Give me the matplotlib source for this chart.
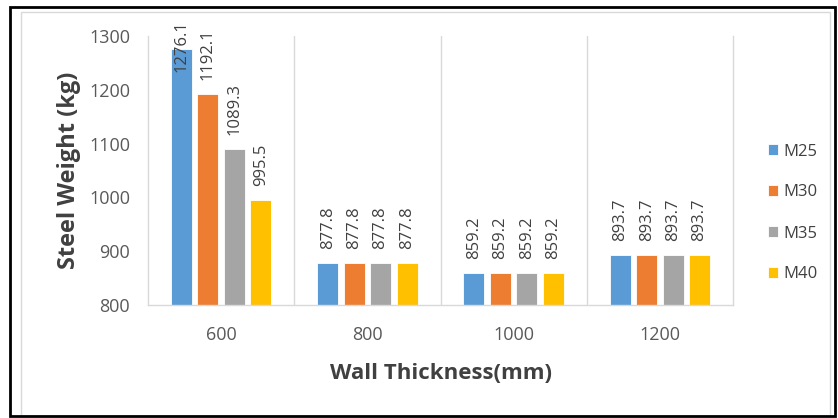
import matplotlib.pyplot as plt
from matplotlib.patches import Rectangle
import numpy as np

thickness = ['600', '800', '1000', '1200']
grades = ['M25', 'M30', 'M35', 'M40']
m25 = [1276.1, 877.8, 859.2, 893.7]
m30 = [1192.1, 877.8, 859.2, 893.7]
m35 = [1089.3, 877.8, 859.2, 893.7]
m40 = [995.5, 877.8, 859.2, 893.7]
colors = ['#5B9BD5', '#ED7D31', '#A5A5A5', '#FFC000']

plt.rcParams['font.family'] = ['Open Sans', 'DejaVu Sans']

fig = plt.figure(figsize=(8.38, 4.18), dpi=100)
ax = fig.add_axes([148/838, 1 - 305/418, (733 - 148)/838, (305 - 36)/418])

ymin, ymax = 800, 1300
x = np.arange(len(thickness))
step = 0.181
width = 0.143
series = [m25, m30, m35, m40]

for i, (name, vals, c) in enumerate(zip(grades, series, colors)):
    pos = x + (i - 1.5) * step
    bars = ax.bar(pos, np.array(vals) - ymin, width, bottom=ymin, color=c,
                  edgecolor='white', linewidth=0.6, label=name)
    for px, v in zip(pos, vals):
        if v > ymax - 60:
            # not enough room above the bar, pin the label to the top
            ax.annotate(f'{v:.1f}', xy=(px, 1.0), xycoords=('data', 'axes fraction'),
                        xytext=(0, 11), textcoords='offset points', rotation=90,
                        ha='center', va='top', fontsize=12, color='#404040')
        else:
            ax.annotate(f'{v:.1f}', xy=(px, v), xytext=(0, 10),
                        textcoords='offset points', rotation=90,
                        ha='center', va='bottom', fontsize=12, color='#404040')

ax.set_xlim(-0.5, len(thickness) - 0.5)
ax.set_ylim(ymin, ymax)
ax.set_xticks(x)
ax.set_xticklabels(thickness)
ax.set_yticks(np.arange(800, 1301, 100))
ax.tick_params(axis='both', length=0, labelsize=13, labelcolor='#595959')
ax.tick_params(axis='y', pad=13)
ax.tick_params(axis='x', pad=15)

# separators between thickness groups
for b in np.arange(0.5, len(thickness) - 0.5, 1):
    ax.axvline(b, color='#D9D9D9', linewidth=1)
ax.spines['top'].set_visible(False)
for s in ['left', 'right', 'bottom']:
    ax.spines[s].set_color('#D9D9D9')
    ax.spines[s].set_linewidth(1)

ax.set_xlabel('Wall Thickness(mm)', fontsize=16, fontweight='bold',
              color='#404040', labelpad=14)
ax.set_ylabel('Steel Weight (kg)', fontsize=17, fontweight='bold',
              color='#404040', labelpad=6)

fig.legend(loc='center left', bbox_to_anchor=(768/838, 1 - 213/418),
           frameon=False, fontsize=12, labelcolor='#404040',
           handlelength=0.6, handleheight=0.6, handletextpad=0.3,
           labelspacing=1.5, borderpad=0, borderaxespad=0)

# chart area border and outer frame
fig.patches.append(Rectangle((21/838, 2/418), 809/838, 404/418, transform=fig.transFigure,
                             fill=False, edgecolor='#D9D9D9', linewidth=1))
fig.patches.append(Rectangle((10/838, 2/418), 825/838, 409/418, transform=fig.transFigure,
                             fill=False, edgecolor='black', linewidth=2))

fig.savefig('out.png', dpi=100)
